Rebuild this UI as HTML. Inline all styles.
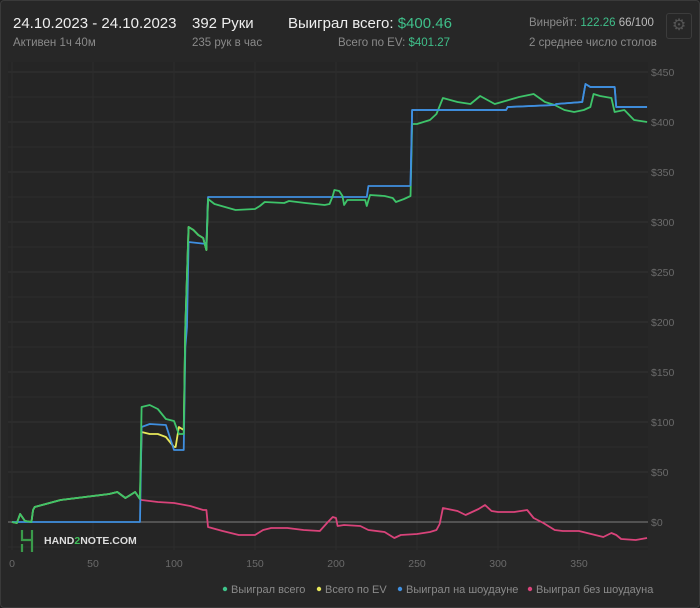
<!DOCTYPE html>
<html><head><meta charset="utf-8"><style>
body{margin:0;background:#1f1f1f;font-family:"Liberation Sans","Noto Sans CJK SC",sans-serif;}
#card{position:absolute;left:0;top:0;width:698px;height:606px;background:#272727;border:1px solid #3a3a3a;border-radius:4px;}
.t{position:absolute;color:#eee;font-size:15px;white-space:nowrap}
.s{position:absolute;color:#8a8a8a;font-size:11.5px;white-space:nowrap}
.g{color:#3fbf8a}
</style></head><body>
<div id="card">
<div class="t" style="left:12px;top:14px">24.10.2023 - 24.10.2023</div>
<div class="s" style="left:12px;top:36px">Активен 1ч 40м</div>
<div class="t" style="left:191px;top:14px">392 Руки</div>
<div class="s" style="left:191px;top:36px">235 рук в час</div>
<div class="t" style="left:287px;top:14px">Выиграл всего: <span class="g">$400.46</span></div>
<div class="s" style="left:337px;top:36px">Всего по EV: <span class="g">$401.27</span></div>
<div class="s" style="left:528px;top:16px">Винрейт: <span class="g">122.26</span> <span style="color:#bbb">66/100</span></div>
<div class="s" style="left:528px;top:36px">2 среднее число столов</div>
<div style="position:absolute;left:665px;top:12px;width:24px;height:24px;border:1px solid #3c3c3c;border-radius:3px;color:#555;font-size:16px;text-align:center;line-height:24px">⚙</div>
</div>
<svg id="chart" width="700" height="608" style="position:absolute;left:0;top:0"></svg>
<script>
const xTicks=[0,50,100,150,200,250,300,350];
const yTicks=[0,50,100,150,200,250,300,350,400,450];
const totalH=[0,3,5,8,12,13,14,30,50,60,65,70,76,79,80,85,90,95,100,103,106,107,109,112,115,118,120,121,125,138,150,153,156,168,171,181,193,196,198,199,202,204,205,207,218,219,221,230,235,237,242,246,247,250,258,262,266,275,283,289,298,313,322,329,335,341,347,353,357,359,363,370,372,378,384,392];
const totalV=[0,-1,8,1,0,12,15,22,26,28,30,24,30,23,115,117,113,103,101,88,88,195,295,292,287,284,272,323,318,312,313,316,320,319,321,319,317,318,326,332,331,326,317,322,322,316,327,326,324,320,323,326,398,398,402,408,424,420,418,426,418,425,428,420,417,412,410,412,415,428,426,424,410,412,402,400];
const evH=[0,3,5,8,12,13,14,30,50,60,65,70,76,79,80,85,90,95,100,101,103,106,107,109,112,115,118,120,121];
const evV=[0,-1,8,1,0,12,15,22,26,28,30,24,30,23,90,88,88,85,75,75,95,92,195,295,292,287,284,272,323];
const sdH=[0,79,80,85,95,100,106,107,108,109,120,121,219,220,246,247,305,306,335,336,352,354,357,372,373,392];
const sdV=[0,0,95,98,97,72,72,175,195,280,278,325,325,336,336,412,412,415,417,418,420,438,435,435,415,415];
const nsdH=[79,80,90,100,110,118,120,121,130,140,150,155,160,170,180,190,195,198,200,201,205,215,220,230,236,240,250,258,262,264,266,275,280,288,292,296,300,310,318,322,328,335,340,350,360,365,370,373,376,385,392];
const nsdV=[23,22,20,19,16,12,12,-5,-9,-13,-13,-8,-6,-6,-8,-9,0,5,4,-4,-3,-4,-8,-10,-16,-13,-12,-10,-8,-2,14,11,7,13,17,11,10,10,12,4,-1,-8,-9,-9,-13,-15,-11,-13,-17,-18,-16];
const NS='http://www.w3.org/2000/svg';
const svg=document.getElementById('chart');
const X=h=>12+h*1.62, Y=v=>522-v;
function el(t,a){const e=document.createElementNS(NS,t);for(const k in a)e.setAttribute(k,a[k]);svg.appendChild(e);return e;}
el('rect',{x:8,y:62,width:640,height:488,fill:'#252525'});
for(let v=-25;v<=450;v+=25){const l=el('line',{x1:8,x2:648,y1:Y(v),y2:Y(v),stroke:v%50===0?'#333':'#2d2d2d','stroke-width':1});

}
xTicks.forEach(h=>{const l=el('line',{x1:X(h),x2:X(h),y1:62,y2:550,stroke:'#2d2d2d'});


const t=el('text',{x:X(h),y:567,fill:'#6a6a6a','font-size':10.5,'text-anchor':'middle'});t.textContent=h;

});
const z=el('line',{x1:8,x2:648,y1:Y(0),y2:Y(0),stroke:'#808080','stroke-width':1});


yTicks.forEach(v=>{const t=el('text',{x:651,y:Y(v)+4,fill:'#6a6a6a','font-size':10.5});t.textContent='$'+v;

});
function line(H,V,c,name){const p=el('polyline',{points:H.map((h,i)=>X(h)+','+Y(V[i])).join(' '),fill:'none',stroke:c,'stroke-width':1.8,'stroke-linejoin':'round'});

}
line(nsdH,nsdV,'#d9437a','series-non-showdown');
line(evH,evV,'#e8e85a','series-ev');
line(sdH,sdV,'#3f8fe0','series-showdown');
line(totalH,totalV,'#3ec46a','series-total');
line(sdH.slice(14),sdV.slice(14),'#3f8fe0','series-showdown-top');
const lg=el('path',{d:'M22 530v10h10v4M32 530v10M22 544v8M32 534v18',stroke:'#3a9a4a','stroke-width':2.2,fill:'none'});


const wt=el('text',{x:44,y:544,fill:'#ddd','font-size':10.5,'font-weight':'bold'});wt.innerHTML='HAND<tspan fill="#3fbf5a">2</tspan>NOTE.COM';


const leg=[['Выиграл всего','#3ec48a',222],['Всего по EV','#e8e85a',316],['Выиграл на шоудауне','#3f8fe0',397],['Выиграл без шоудауна','#d9437a',527]];
leg.forEach(([n,c,x])=>{const d=el('circle',{cx:x+3,cy:589,r:2.2,fill:c});


const t=el('text',{x:x+9,y:593,fill:'#8a8a8a','font-size':11});t.textContent=n;

});
</script>
</body></html>
